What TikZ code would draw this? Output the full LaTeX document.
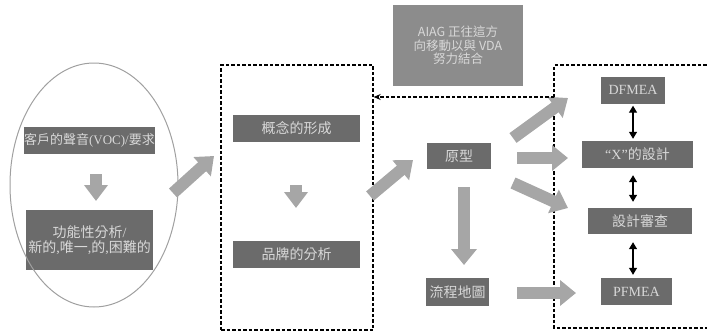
\documentclass[tikz,border=0pt]{standalone}
\usepackage{fontspec}
\setmainfont{Liberation Serif}
\newfontfamily\cjk{Noto Sans CJK TC}
\usetikzlibrary{arrows.meta,shapes.geometric}
\definecolor{boxfill}{HTML}{6B6B6B}
\definecolor{boxtext}{HTML}{D8D8D8}
\definecolor{notefill}{HTML}{8C8C8C}
\definecolor{fatgray}{HTML}{A6A6A6}
\definecolor{ringgray}{HTML}{A0A0A0}
\tikzset{
  darkbox/.style={fill=boxfill, text=boxtext, inner sep=0pt, align=center, font=\fontsize{14}{15}\selectfont},
  fatarrow/.style={draw=fatgray, line width=12pt, -{Triangle[length=16pt,width=25pt]}, fatgray},
  smallfat/.style={draw=fatgray, line width=12pt, -{Triangle[length=16pt,width=23pt]}, fatgray},
  dblarrow/.style={draw=black, line width=1.2pt, {Triangle[length=7pt,width=8pt]}-{Triangle[length=7pt,width=8pt]}},
  dashframe/.style={draw=black, line width=1.3pt, dash pattern=on 3.5pt off 2pt},
}
\begin{document}
\begin{tikzpicture}[x=1pt,y=-1pt]
\useasboundingbox (0,0) rectangle (707,332);
% dashed frames
\node[dashframe, minimum width=152pt, minimum height=265pt, inner sep=0pt] (frameB) at (297,197.5) {};
\draw[dashframe] (712,65) -- (554,65) -- (554,328) -- (712,328);
\coordinate (frameCin) at (554,97);
% boxes
\node[darkbox, minimum width=127pt, minimum height=27pt, font=\fontsize{13}{14}\selectfont] (voc) at (89.5,140.5) {{\cjk 客戶的聲音}(VOC)/{\cjk 要求}};
\node[darkbox, minimum width=127pt, minimum height=60pt] (func) at (89.5,240) {{\cjk 功能性分析}/\\{\cjk 新的},{\cjk 唯一},{\cjk 的},{\cjk 困難的}};
\node[darkbox, minimum width=127pt, minimum height=27pt, font=\cjk\fontsize{14}{15}\selectfont] (concept) at (296.5,128.5) {概念的形成};
\node[darkbox, minimum width=127pt, minimum height=27pt, font=\cjk\fontsize{14}{15}\selectfont] (brand) at (296.5,254.5) {品牌的分析};
\node[darkbox, minimum width=64pt, minimum height=26pt, font=\cjk\fontsize{14}{15}\selectfont] (proto) at (459,156) {原型};
\node[darkbox, minimum width=63pt, minimum height=28pt, font=\cjk\fontsize{14}{15}\selectfont] (flow) at (457.5,292) {流程地圖};
\node[darkbox, minimum width=64pt, minimum height=27pt] (dfmea) at (633,90) {DFMEA};
\node[darkbox, minimum width=111pt, minimum height=27pt] (xdes) at (637.5,154.5) {“X”{\cjk 的設計}};
\node[darkbox, minimum width=104pt, minimum height=26pt, font=\cjk\fontsize{14}{15}\selectfont] (review) at (640,221) {設計審查};
\node[darkbox, minimum width=71pt, minimum height=27pt] (pfmea) at (636.5,291.5) {PFMEA};
\node[fill=notefill, text=boxtext, inner sep=0pt, align=center, minimum width=130pt, minimum height=81pt, font=\cjk\fontsize{12.5}{13.5}\selectfont] (aiag) at (458,45.5) {AIAG 正往這方\\向移動以與 VDA\\努力結合};
% ellipse
\node[draw=ringgray, line width=1pt, ellipse, minimum width=168pt, minimum height=244pt, inner sep=0pt] (ring) at (94,185) {};
% coordinates for fat arrows
\coordinate (a1s) at (173,193); \coordinate (a1e) at (214,156);
\coordinate (a2s) at (370,196); \coordinate (a2e) at (413,160);
\coordinate (a3s) at (513,138); \coordinate (a3e) at (568,98);
\coordinate (a4s) at (517,158); \coordinate (a4e) at (568,158);
\coordinate (a5s) at (513,183); \coordinate (a5e) at (568,208);
\coordinate (a6s) at (464,187); \coordinate (a6e) at (464,265);
\coordinate (a7s) at (517,293); \coordinate (a7e) at (576,293);
\coordinate (d1s) at (96,174); \coordinate (d1e) at (96,201);
\coordinate (d2s) at (296,185); \coordinate (d2e) at (296,208);
\draw[fatarrow] (a1s) -- (a1e);
\draw[fatarrow] (a2s) -- (a2e);
\draw[fatarrow] (a3s) -- (a3e);
\draw[fatarrow] (a4s) -- (a4e);
\draw[fatarrow] (a5s) -- (a5e);
\draw[fatarrow] (a6s) -- (a6e);
\draw[fatarrow] (a7s) -- (a7e);
\draw[smallfat] (d1s) -- (d1e);
\draw[smallfat] (d2s) -- (d2e);
% double arrows
\draw[dblarrow] ([yshift=-2pt]dfmea.south) -- ([yshift=2pt]dfmea.south |- xdes.north);
\draw[dblarrow] ([yshift=-7pt]dfmea.south |- xdes.south) -- ([yshift=6pt]dfmea.south |- review.north);
\draw[dblarrow] ([yshift=-8pt]dfmea.south |- review.south) -- ([yshift=3pt]dfmea.south |- pfmea.north);
% dashed arrow
\draw[dashframe, -{Stealth[length=7pt,width=6pt]}] (frameCin) -- (frameB.east |- frameCin);
\end{tikzpicture}
\end{document}
